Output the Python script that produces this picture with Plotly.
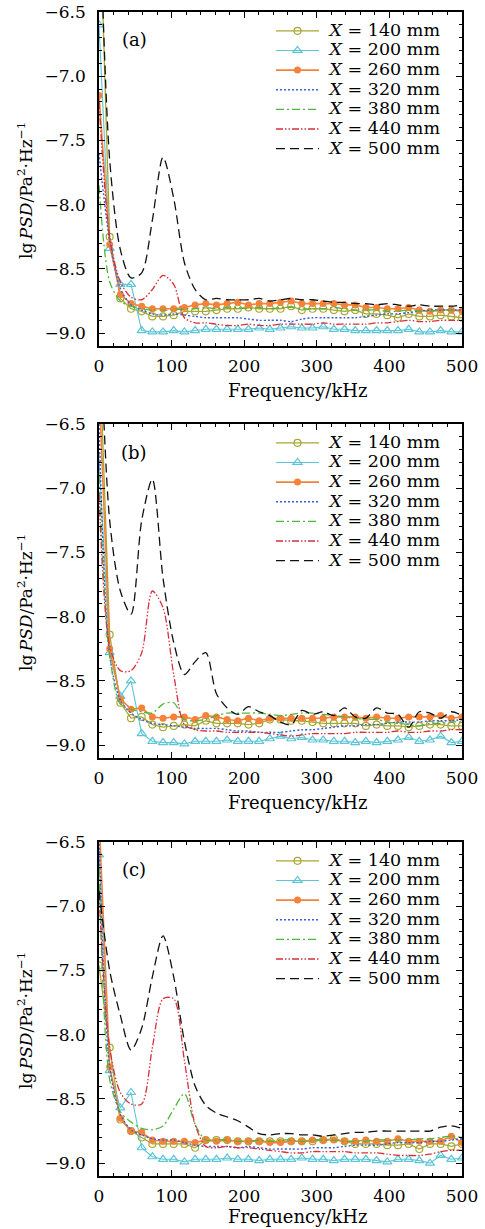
import plotly.graph_objects as go

FREQ = [0, 14.7, 29.4, 44.1, 58.8, 73.5, 88.2, 102.9, 117.6, 132.4, 147.1, 161.8, 176.5, 191.2,
        205.9, 220.6, 235.3, 250.0, 264.7, 279.4, 294.1, 308.8, 323.5, 338.2, 352.9, 367.6,
        382.4, 397.1, 411.8, 426.5, 441.2, 455.9, 470.6, 485.3, 500.0]

SERIES_NAMES = ["140", "200", "260", "320", "380", "440", "500"]
X_TICKS = [0, 100, 200, 300, 400, 500]
Y_TICKS = [-9.0, -8.5, -8.0, -7.5, -7.0, -6.5]

# ---- panel (a)
A_140 = [-5.5, -8.25, -8.73, -8.81, -8.83, -8.87, -8.87, -8.86, -8.83, -8.83, -8.83, -8.82, -8.81, -8.81, -8.80, -8.81, -8.81, -8.81, -8.79, -8.82, -8.81, -8.81, -8.82, -8.83, -8.82, -8.85, -8.85, -8.86, -8.88, -8.85, -8.87, -8.87, -8.86, -8.87, -8.88]
A_200 = [-6.6, -8.34, -8.62, -8.62, -8.98, -8.99, -8.99, -8.98, -8.99, -8.98, -8.97, -8.97, -8.97, -8.97, -8.97, -8.96, -8.97, -8.96, -8.95, -8.96, -8.96, -8.95, -8.97, -8.97, -8.98, -8.98, -8.98, -8.98, -8.98, -8.97, -8.99, -8.99, -8.98, -8.99, -8.99]
A_260 = [-7.15, -8.31, -8.70, -8.77, -8.79, -8.81, -8.81, -8.81, -8.80, -8.78, -8.77, -8.78, -8.77, -8.76, -8.78, -8.77, -8.77, -8.76, -8.75, -8.77, -8.77, -8.77, -8.77, -8.78, -8.78, -8.80, -8.80, -8.81, -8.81, -8.80, -8.82, -8.83, -8.82, -8.82, -8.83]
A_320 = [-7.6, -8.28, -8.65, -8.78, -8.82, -8.85, -8.86, -8.85, -8.86, -8.87, -8.88, -8.88, -8.88, -8.88, -8.89, -8.90, -8.90, -8.90, -8.91, -8.89, -8.88, -8.88, -8.88, -8.88, -8.88, -8.87, -8.86, -8.85, -8.85, -8.84, -8.83, -8.82, -8.82, -8.82, -8.82]
A_380 = [-7.85, -8.6, -8.75, -8.79, -8.81, -8.82, -8.82, -8.82, -8.81, -8.81, -8.80, -8.81, -8.80, -8.80, -8.81, -8.80, -8.81, -8.80, -8.80, -8.81, -8.81, -8.81, -8.80, -8.81, -8.82, -8.82, -8.82, -8.83, -8.83, -8.82, -8.83, -8.83, -8.82, -8.82, -8.82]
A_440 = [-7.2, -8.25, -8.6, -8.72, -8.74, -8.66, -8.55, -8.62, -8.88, -8.92, -8.92, -8.93, -8.94, -8.94, -8.93, -8.94, -8.94, -8.93, -8.93, -8.93, -8.93, -8.92, -8.93, -8.93, -8.93, -8.93, -8.92, -8.92, -8.91, -8.90, -8.91, -8.91, -8.90, -8.90, -8.90]
A_500 = [-5.5, -7.65, -8.35, -8.57, -8.53, -8.12, -7.63, -7.95, -8.45, -8.66, -8.74, -8.73, -8.74, -8.74, -8.74, -8.73, -8.75, -8.74, -8.73, -8.74, -8.74, -8.75, -8.76, -8.76, -8.77, -8.77, -8.78, -8.77, -8.78, -8.79, -8.78, -8.79, -8.79, -8.79, -8.78]

# ---- panel (b)
B_140 = [-5.8, -8.14, -8.67, -8.79, -8.78, -8.84, -8.86, -8.85, -8.84, -8.85, -8.81, -8.83, -8.83, -8.83, -8.84, -8.83, -8.80, -8.80, -8.81, -8.81, -8.82, -8.83, -8.83, -8.83, -8.83, -8.85, -8.84, -8.85, -8.85, -8.86, -8.85, -8.84, -8.84, -8.85, -8.85]
B_200 = [-6.77, -8.28, -8.62, -8.50, -8.91, -8.97, -8.98, -8.98, -8.99, -8.97, -8.97, -8.97, -8.96, -8.97, -8.97, -8.97, -8.95, -8.93, -8.95, -8.94, -8.96, -8.96, -8.97, -8.97, -8.98, -8.97, -8.98, -8.97, -8.96, -8.94, -8.97, -8.96, -8.93, -8.98, -8.97]
B_260 = [-6.2, -8.25, -8.64, -8.72, -8.71, -8.78, -8.79, -8.78, -8.78, -8.80, -8.77, -8.78, -8.80, -8.81, -8.79, -8.81, -8.79, -8.79, -8.79, -8.79, -8.79, -8.79, -8.78, -8.78, -8.78, -8.79, -8.78, -8.79, -8.79, -8.78, -8.78, -8.78, -8.77, -8.79, -8.78]
B_320 = [-6.5, -8.3, -8.65, -8.75, -8.8, -8.83, -8.84, -8.85, -8.86, -8.87, -8.87, -8.87, -8.88, -8.89, -8.89, -8.90, -8.90, -8.90, -8.89, -8.88, -8.88, -8.87, -8.86, -8.85, -8.85, -8.84, -8.84, -8.83, -8.82, -8.82, -8.82, -8.81, -8.81, -8.81, -8.80]
B_380 = [-6.9, -8.3, -8.68, -8.72, -8.74, -8.75, -8.68, -8.67, -8.80, -8.81, -8.80, -8.77, -8.75, -8.75, -8.75, -8.75, -8.76, -8.77, -8.76, -8.75, -8.75, -8.76, -8.77, -8.78, -8.79, -8.80, -8.80, -8.82, -8.83, -8.84, -8.85, -8.83, -8.83, -8.82, -8.82]
B_440 = [-7.04, -8.23, -8.42, -8.42, -8.28, -7.8, -7.93, -8.45, -8.84, -8.88, -8.89, -8.89, -8.90, -8.90, -8.90, -8.90, -8.91, -8.92, -8.93, -8.92, -8.91, -8.91, -8.91, -8.91, -8.90, -8.90, -8.90, -8.90, -8.89, -8.90, -8.90, -8.89, -8.89, -8.88, -8.88]
B_500 = [-5.5, -7.25, -7.8, -7.98, -7.25, -6.93, -7.7, -8.2, -8.45, -8.35, -8.28, -8.6, -8.71, -8.76, -8.70, -8.74, -8.77, -8.82, -8.84, -8.73, -8.76, -8.74, -8.77, -8.71, -8.78, -8.79, -8.71, -8.75, -8.76, -8.86, -8.74, -8.75, -8.79, -8.74, -8.77]

# ---- panel (c)
C_140 = [-7.46, -8.10, -8.66, -8.75, -8.80, -8.85, -8.85, -8.85, -8.85, -8.88, -8.82, -8.82, -8.82, -8.83, -8.83, -8.83, -8.83, -8.83, -8.83, -8.83, -8.83, -8.82, -8.81, -8.83, -8.85, -8.85, -8.85, -8.86, -8.86, -8.85, -8.89, -8.85, -8.85, -8.87, -8.85]
C_200 = [-6.6, -8.28, -8.57, -8.45, -8.88, -8.95, -8.97, -8.97, -8.99, -8.97, -8.97, -8.97, -8.96, -8.97, -8.97, -8.98, -8.97, -8.97, -8.97, -8.96, -8.97, -8.97, -8.98, -8.97, -8.97, -8.97, -8.98, -8.99, -8.97, -8.97, -8.98, -9.0, -8.94, -8.97, -8.96]
C_260 = [-6.3, -8.25, -8.65, -8.75, -8.76, -8.82, -8.83, -8.83, -8.83, -8.84, -8.82, -8.83, -8.82, -8.83, -8.83, -8.83, -8.84, -8.84, -8.83, -8.83, -8.82, -8.82, -8.82, -8.83, -8.83, -8.82, -8.83, -8.83, -8.81, -8.83, -8.83, -8.83, -8.83, -8.79, -8.84]
C_320 = [-6.45, -8.25, -8.62, -8.74, -8.78, -8.81, -8.82, -8.82, -8.84, -8.86, -8.87, -8.87, -8.87, -8.88, -8.87, -8.88, -8.89, -8.89, -8.89, -8.89, -8.88, -8.88, -8.88, -8.87, -8.86, -8.86, -8.86, -8.85, -8.84, -8.84, -8.84, -8.83, -8.83, -8.82, -8.81]
C_380 = [-6.7, -8.35, -8.6, -8.68, -8.73, -8.74, -8.71, -8.58, -8.46, -8.7, -8.82, -8.82, -8.82, -8.83, -8.83, -8.82, -8.83, -8.82, -8.82, -8.83, -8.82, -8.82, -8.82, -8.83, -8.83, -8.83, -8.82, -8.82, -8.82, -8.82, -8.81, -8.81, -8.80, -8.79, -8.80]
C_440 = [-6.9, -8.1, -8.45, -8.54, -8.54, -8.1, -7.72, -7.72, -8.2, -8.7, -8.87, -8.88, -8.87, -8.88, -8.88, -8.89, -8.9, -8.91, -8.92, -8.92, -8.91, -8.91, -8.91, -8.91, -8.92, -8.92, -8.92, -8.93, -8.94, -8.94, -8.94, -8.93, -8.91, -8.90, -8.90]
C_500 = [-6.88, -7.5, -7.85, -8.12, -7.95, -7.55, -7.23, -7.55, -8.05, -8.4, -8.55, -8.61, -8.64, -8.67, -8.72, -8.77, -8.78, -8.77, -8.77, -8.78, -8.78, -8.79, -8.78, -8.77, -8.76, -8.76, -8.75, -8.75, -8.75, -8.75, -8.75, -8.75, -8.72, -8.71, -8.73]

PANELS = [
    ("(a)", [A_140, A_200, A_260, A_320, A_380, A_440, A_500]),
    ("(b)", [B_140, B_200, B_260, B_320, B_380, B_440, B_500]),
    ("(c)", [C_140, C_200, C_260, C_320, C_380, C_440, C_500]),
]

FONT = "DejaVu Serif"
W, H = 485, 1229
X_LEFT, X_RIGHT = 99, 462
PANEL_TOPS = [12, 424, 842]
PANEL_H = 334
XTITLE_OFFSETS = [44, 44, 40]

STYLES = [
    dict(mode="lines+markers", line=dict(color="#a8a735", width=1.3, dash="solid"),
         marker=dict(symbol="circle-open", size=7, color="#a8a735", line=dict(width=1.2))),
    dict(mode="lines+markers", line=dict(color="#5cc6d6", width=1.1, dash="solid"),
         marker=dict(symbol="triangle-up-open", size=8, color="#5cc6d6", line=dict(width=1.2))),
    dict(mode="lines+markers", line=dict(color="#f5823a", width=1.6, dash="solid"),
         marker=dict(symbol="circle", size=7, color="#f5823a")),
    dict(mode="lines", line=dict(color="#3a5fd0", width=1.4, dash="2px,2px", shape="spline", smoothing=0.8)),
    dict(mode="lines", line=dict(color="#4cb83c", width=1.3, dash="8px,3px,2px,3px", shape="spline", smoothing=0.8)),
    dict(mode="lines", line=dict(color="#d8303a", width=1.3, dash="7px,2px,1.5px,2px,1.5px,2px", shape="spline", smoothing=0.8)),
    dict(mode="lines", line=dict(color="#111111", width=1.3, dash="9px,5px", shape="spline", smoothing=0.8)),
]

fig = go.Figure()
layout = dict(
    width=W, height=H, margin=dict(l=0, r=0, t=0, b=0),
    paper_bgcolor="white", plot_bgcolor="white",
    font=dict(family=FONT, size=16, color="black"),
    annotations=[],
)

for i, (label, series) in enumerate(PANELS):
    sfx = "" if i == 0 else str(i + 1)
    top = PANEL_TOPS[i]
    y_dom = [1 - (top + PANEL_H) / H, 1 - top / H]
    legend_name = "legend" + sfx
    for name, ys, st in zip(SERIES_NAMES, series, STYLES):
        fig.add_trace(go.Scatter(
            x=FREQ, y=ys,
            name="<span style='font-size:17.5px'>\u00a0<i>X</i> = %s mm</span>" % name,
            xaxis="x" + sfx, yaxis="y" + sfx, legend=legend_name, **st))
    axis_common = dict(
        showline=True, linecolor="black", linewidth=1.6, mirror="allticks",
        ticks="inside", ticklen=6, tickwidth=1, tickcolor="black",
        showgrid=False, zeroline=False, automargin=False,
        tickfont=dict(family=FONT, size=17, color="black"),
    )
    layout["xaxis" + sfx] = dict(
        axis_common, domain=[X_LEFT / W, X_RIGHT / W], range=[0, 500],
        anchor="y" + sfx, tickvals=X_TICKS,
        minor=dict(ticks="inside", dtick=20, ticklen=3.5, tickcolor="black", tickwidth=1, showgrid=False),
        ticklabelstandoff=4,
    )
    layout["yaxis" + sfx] = dict(
        axis_common, domain=y_dom, range=[-9.1, -6.5], anchor="x" + sfx,
        tickvals=Y_TICKS, tickformat=".1f",
        minor=dict(ticks="inside", dtick=0.1, ticklen=3.5, tickcolor="black", tickwidth=1, showgrid=False),
        ticklabelstandoff=8,
    )
    layout[legend_name] = dict(
        x=271 / W, y=1 - (top + 4) / H, xanchor="left", yanchor="top",
        bgcolor="rgba(0,0,0,0)", borderwidth=0, itemwidth=43,
        font=dict(family=FONT, size=12.8, color="black"), tracegroupgap=0,
    )
    # panel label
    layout["annotations"].append(dict(
        text=label, xref="x%s domain" % sfx, yref="y%s domain" % sfx,
        x=(134 - X_LEFT) / (X_RIGHT - X_LEFT), y=1 - 28 / PANEL_H,
        xanchor="center", yanchor="middle",
        showarrow=False, font=dict(family=FONT, size=18, color="black"),
    ))
    # x-axis title
    layout["annotations"].append(dict(
        text="Frequency/kHz", xref="paper", yref="paper",
        x=298 / W, y=1 - (top + PANEL_H + XTITLE_OFFSETS[i]) / H,
        xanchor="center", yanchor="middle",
        showarrow=False, font=dict(family=FONT, size=18, color="black"),
    ))
    # y-axis title
    layout["annotations"].append(dict(
        text="lg\u2009<i>PSD</i>/Pa<sup>2</sup>·Hz<sup>−1</sup>", xref="paper", yref="paper",
        x=25 / W, y=1 - (top + PANEL_H / 2 + 12) / H, textangle=-90,
        xanchor="center", yanchor="middle",
        showarrow=False, font=dict(family=FONT, size=17, color="black"),
    ))

fig.update_layout(**layout)
fig.write_html("out.html")
